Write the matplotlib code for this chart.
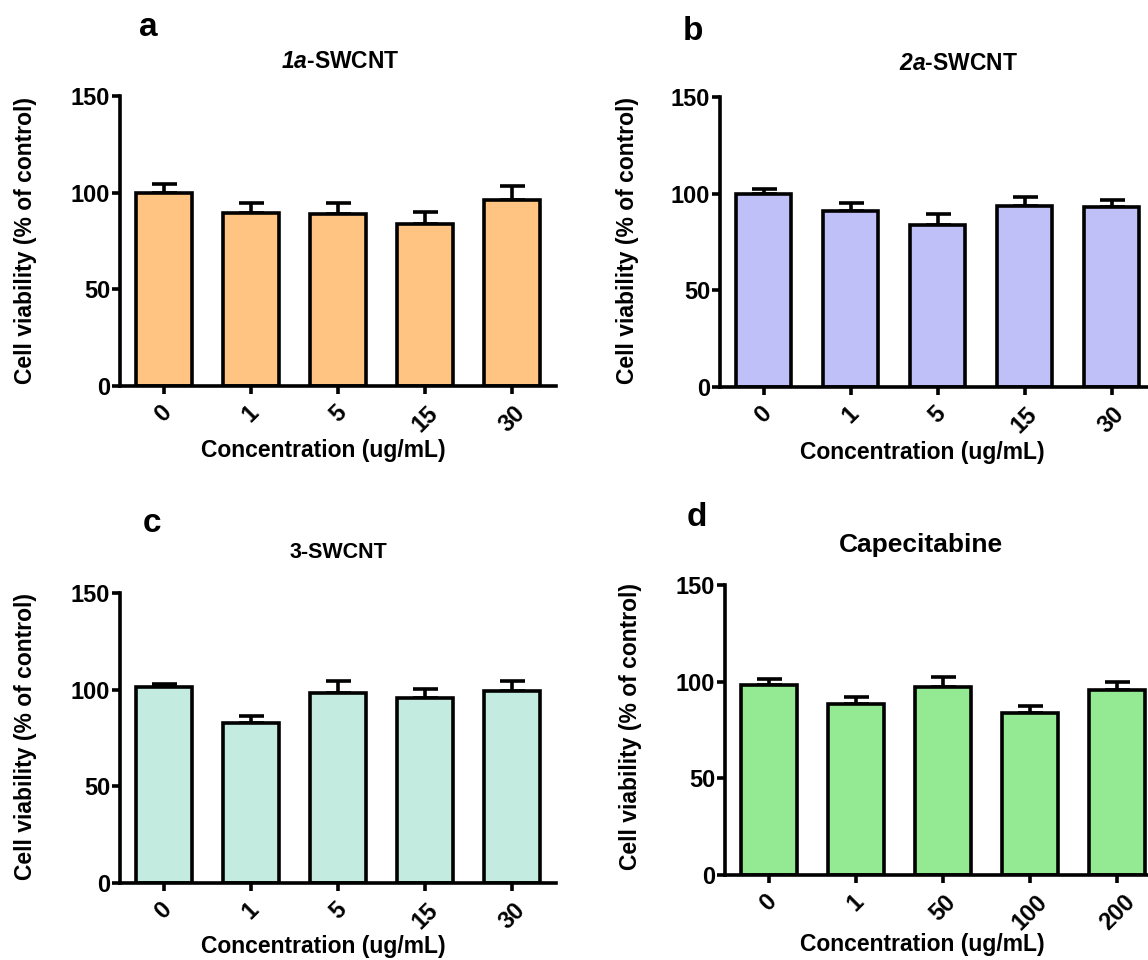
import numpy as np
import matplotlib.pyplot as plt

plt.rcParams['font.family'] = ['Liberation Sans', 'DejaVu Sans']
plt.rcParams['font.weight'] = 'bold'
plt.rcParams['mathtext.fontset'] = 'custom'
plt.rcParams['mathtext.bfit'] = 'Liberation Sans:bold:italic'
plt.rcParams['mathtext.rm'] = 'Liberation Sans:bold'

# concentrations (tick labels)
conc_swcnt = ['0', '1', '5', '15', '30']
conc_cape = ['0', '1', '50', '100', '200']

# mean viability (% of control) and upper error (SEM)
via_1a = [100.0, 89.5, 88.9, 84.0, 96.4]
err_1a = [4.7, 5.2, 5.8, 6.1, 7.3]

via_2a = [99.7, 91.0, 83.8, 93.6, 92.9]
err_2a = [2.9, 4.3, 5.5, 4.7, 3.8]

via_3 = [101.2, 82.6, 98.3, 95.7, 99.5]
err_3 = [1.9, 3.8, 6.0, 4.6, 4.8]

via_cape = [98.3, 88.6, 97.4, 83.6, 95.7]
err_cape = [2.9, 3.6, 5.2, 3.8, 4.0]

W, H = 1148, 960
fig = plt.figure(figsize=(W / 100, H / 100), dpi=100)


def px_axes(left, right, top, bottom):
    # axes placed in pixel coordinates of the figure (origin top left)
    return fig.add_axes([left / W, 1 - bottom / H, (right - left) / W, (bottom - top) / H])


def bar_panel(ax, labels, vals, errs, color):
    x = np.arange(len(vals))
    ax.bar(x, vals, width=0.64, color=color, edgecolor='black', linewidth=2.6, zorder=2)
    ax.errorbar(x, vals, yerr=[np.zeros(len(errs)), errs], fmt='none', ecolor='black',
                elinewidth=2.6, capsize=9, capthick=2.6, zorder=1)
    ax.set_xlim(-0.5, 4.5)
    ax.set_ylim(0, 150)
    ax.set_yticks([0, 50, 100, 150])
    ax.set_xticks(x)
    ax.set_xticklabels(labels, rotation=45, ha='center', va='top')
    for s in ['top', 'right']:
        ax.spines[s].set_visible(False)
    for s in ['left', 'bottom']:
        ax.spines[s].set_linewidth(2.6)
    ax.tick_params(axis='both', width=2.6, length=6, labelsize=17, direction='out')
    ax.tick_params(axis='x', pad=5)
    ax.tick_params(axis='y', pad=1)
    for lab in ax.get_xticklabels() + ax.get_yticklabels():
        lab.set_fontweight('bold')


axa = px_axes(120, 556, 96, 386)
bar_panel(axa, conc_swcnt, via_1a, err_1a, '#FFC482')
axb = px_axes(720, 1155, 97, 387)
bar_panel(axb, conc_swcnt, via_2a, err_2a, '#C0C0F8')
axc = px_axes(120, 556, 593, 883)
bar_panel(axc, conc_swcnt, via_3, err_3, '#C4EBE0')
axd = px_axes(725, 1161, 585, 875)
bar_panel(axd, conc_cape, via_cape, err_cape, '#93EA93')


def ftext(x, y, s, **kw):
    fig.text(x / W, 1 - y / H, s, ha='center', va='center', fontweight='bold', **kw)


# panel letters
ftext(148, 28, 'a', fontsize=24)
ftext(693, 32, 'b', fontsize=24)
ftext(152, 523, 'c', fontsize=24)
ftext(697, 518, 'd', fontsize=24)

# titles
ftext(340, 61, r'$\mathbfit{1a}$-SWCNT', fontsize=16.5)
ftext(959, 63, r'$\mathbfit{2a}$-SWCNT', fontsize=16.5)
ftext(338, 553, '3-SWCNT', fontsize=15.5)
ftext(921, 545, 'Capecitabine', fontsize=19)

# axis labels
ylab = 'Cell viability (% of control)'
xlab = 'Concentration (ug/mL)'
ftext(26, 240, ylab, fontsize=16.5, rotation=90)
ftext(628, 240, ylab, fontsize=16.5, rotation=90)
ftext(26, 737, ylab, fontsize=16.5, rotation=90)
ftext(630, 727, ylab, fontsize=16.5, rotation=90)
ftext(323, 451, xlab, fontsize=16.5)
ftext(922, 452, xlab, fontsize=16.5)
ftext(323, 946, xlab, fontsize=16.5)
ftext(922, 945, xlab, fontsize=16.5)

fig.savefig('out.png', dpi=100)
